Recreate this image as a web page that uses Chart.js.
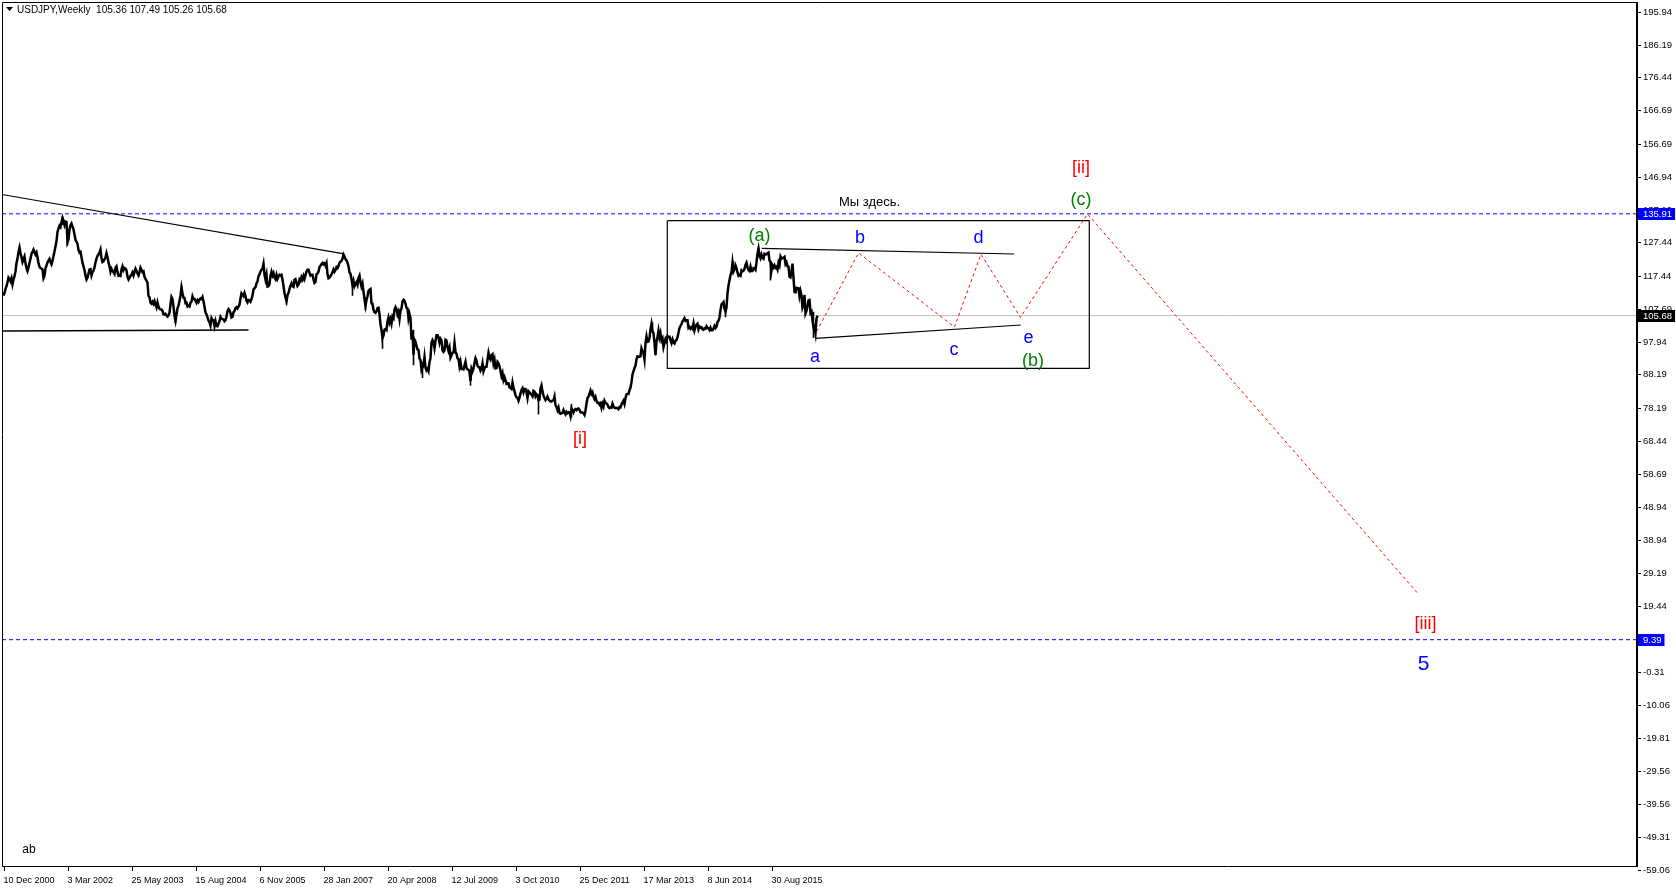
<!DOCTYPE html>
<html>
<head>
<meta charset="utf-8">
<title>USDJPY Weekly</title>
<script src="https://cdn.jsdelivr.net/npm/chart.js@4.4.0/dist/chart.umd.min.js"></script>
<style>
  html, body { margin: 0; padding: 0; background: #fff; overflow: hidden; }
  #wrap { width: 1676px; height: 894px; position: relative; }
</style>
</head>
<body>
<div id="wrap"><canvas id="chart" width="1676" height="894"></canvas></div>
<script>
// Weekly closes, one array per calendar year (week 0 = 10 Dec 2000)
const w2000 = [111.6,112.4,113.6,114.4];
const w2001 = [115.6,117.0,116.6,115.9, 116.8,115.0,116.4,117.4, 118.8,121.3,122.6,124.6, 125.9,124.2,123.0,121.6,122.4, 123.2,121.2,119.8,118.9, 119.9,121.4,122.6,124.0, 124.6,125.3,124.5,123.8,124.4, 123.0,121.2,120.2,119.8, 119.6,119.4,116.8,117.5,119.8, 120.5,121.5,122.0,122.5, 121.6,120.9,121.9,123.4, 124.7,126.3,127.8,130.5,131.6];
const w2002 = [132.4,132.0,133.5,134.7, 133.8,132.6,133.6,133.5, 127.5,128.3,131.3,132.5,133.0, 132.1,131.3,129.8,128.2, 127.6,127.0,125.2,124.4, 124.6,123.0,121.4,120.3,119.2, 117.5,116.4,117.0,118.2, 119.4,119.5,117.6,118.6, 119.0,120.0,121.5,122.6,123.4, 123.8,124.4,125.3,122.7, 121.6,121.8,122.4,122.9, 124.2,123.0,121.4,120.3,118.7];
const w2003 = [119.6,119.0,118.5,118.0, 119.9,120.3,118.6,117.5, 117.6,117.5,119.4,120.3,119.2, 119.8,119.6,119.1,117.2, 116.4,116.9,117.5,117.8, 118.5,117.6,118.6,119.6,119.0, 118.2,117.6,118.6,119.9, 119.3,118.6,118.8,117.2,116.6, 116.1,115.4,111.5,111.2, 109.5,109.2,109.8,109.2, 110.0,108.9,108.1,109.6,108.4, 107.7,107.5,107.5,107.1];
const w2004 = [106.1,106.0,106.2,105.7, 105.4,105.8,106.5,109.0,111.2, 110.6,108.3,105.6,104.1, 106.0,107.9,108.6,110.1, 111.6,114.0,112.3,111.0,110.9, 109.4,109.5,108.4,108.6, 108.4,109.5,109.8,111.4, 110.6,110.6,110.1,109.5,110.2, 109.7,110.4,110.8,110.6, 111.2,109.9,108.3,106.6,106.0, 105.2,104.2,103.7,102.7, 104.9,104.3,104.3,102.6];
const w2005 = [104.0,102.6,102.5,103.3,104.0, 105.3,104.8,104.6,104.5, 104.0,104.3,105.5,107.0, 107.6,107.2,106.5,105.1, 105.3,106.7,107.0,107.9,108.2, 107.8,108.3,108.9,110.8, 112.3,111.9,111.5,112.4,111.4, 110.1,109.6,110.3,110.2, 109.8,110.6,111.6,113.5, 113.8,114.1,115.3,115.8,117.4, 117.9,118.8,119.3,119.6, 121.0,117.9,116.4,117.8];
const w2006 = [114.3,114.4,115.0,117.5,118.7, 117.6,118.3,117.0,116.5, 117.8,116.6,117.3,117.8, 117.6,117.8,116.3,114.5,112.4, 111.1,110.0,111.7,112.4, 113.6,114.6,115.3,114.4, 114.2,116.3,116.5,115.5,114.5, 114.9,116.4,116.0,117.1, 116.4,117.5,116.6,117.7, 118.8,119.3,119.3,118.4,117.6, 117.8,117.8,116.4,115.4, 115.7,118.0,118.2,118.7,120.1];
const w2007 = [120.5,121.0,121.3,120.9, 121.2,120.5,121.3,118.0, 116.8,117.0,117.4,117.9, 118.6,119.4,118.7,119.2,120.1, 119.8,120.4,121.4,121.7, 121.9,122.6,123.8,123.2, 122.4,122.1,121.4,120.3,118.5, 118.1,116.5,114.8,116.0, 114.4,115.1,115.6,114.8,116.9, 117.6,115.6,114.3,115.2, 112.8,110.6,108.6,110.3, 111.4,113.0,113.4,113.6,109.3];
const w2008 = [109.2,107.4,106.7,106.5, 106.9,107.9,108.0,106.1, 103.0,101.5,99.0,99.7,101.5, 101.7,101.4,103.9,105.1, 103.6,104.6,103.3,105.4, 104.9,107.5,108.2,107.6,106.0, 106.8,104.7,107.1,107.8, 109.9,110.4,110.1,109.2,108.0, 107.8,104.8,106.2,105.0, 98.5,101.3,94.0,98.5, 97.9,96.7,95.6,95.5,92.9, 92.5,89.6,90.4,90.7];
const w2009 = [93.3,90.2,89.4,89.9, 89.2,91.8,93.1,97.6, 98.4,97.8,96.0,98.1,99.8, 99.8,99.2,97.6,98.8, 98.3,95.3,94.9,95.3,98.5, 98.3,96.3,95.2,96.2, 93.2,93.9,94.6,94.7, 97.6,94.8,94.4,93.0,92.8, 90.6,91.9,89.8,89.8, 89.7,90.9,92.0,90.1, 89.7,89.6,88.9,86.3,89.9, 89.1,89.9,91.6,93.0];
const w2010 = [92.3,90.8,90.3,90.3,89.3, 89.9,91.5,89.1,90.0, 90.5,90.5,92.5,94.6, 93.2,92.6,93.9,94.2, 91.5,92.6,90.0,90.1,91.9, 91.5,90.6,89.3,87.7, 88.6,86.5,87.4,86.5, 85.4,85.6,85.6,84.3,84.2, 83.9,85.8,84.2,83.3, 82.0,81.4,81.3,80.4,81.3, 82.5,83.6,84.1,82.9, 83.9,83.9,82.9,81.2];
const w2011 = [83.2,82.9,82.5,82.2,81.7, 83.3,83.1,81.7,82.3, 81.9,80.6,80.7,84.0, 84.9,83.1,81.9,81.2, 80.6,81.0,81.6,80.8,80.4, 80.2,80.1,80.4,80.5, 81.6,79.1,78.5,77.6,78.4, 76.8,76.5,76.6,76.8, 77.6,76.8,76.3,77.1, 76.7,77.0,76.9,75.8,78.0, 77.5,76.9,77.7,77.9, 77.6,78.0,78.1,77.7];
const w2012 = [77.0,76.9,76.9,76.7,76.2, 77.5,79.5,81.2,81.6, 82.5,83.4,82.4,82.9, 81.6,80.9,81.5,80.3,79.8, 79.8,79.2,79.6,78.3, 79.5,78.7,80.4,79.8, 79.6,79.2,78.5,78.2,78.4, 78.3,79.5,78.7,78.3, 78.2,78.3,78.2,77.9,78.5, 78.4,79.3,79.9,80.4, 79.4,81.2,82.3,82.4, 82.4,83.5,84.3,85.9,88.2];
const w2013 = [89.2,90.1,90.8,92.7, 93.6,93.5,93.4,93.6, 96.0,95.2,94.5,92.6,97.6, 99.5,97.9,98.0,99.0, 101.6,103.2,101.0,100.5, 97.5,94.0,97.9,99.2,101.2, 99.2,100.4,98.3,98.9, 96.3,97.5,98.7,98.1, 99.6,99.4,99.4,98.3,97.5, 98.6,97.7,97.4,98.2, 98.4,99.3,100.6,102.0, 102.6,103.2,104.0,104.4,104.9];
const w2014 = [104.1,104.3,104.3,102.0, 102.3,101.8,102.2,101.8, 103.3,101.3,102.3,103.0,103.3, 101.6,102.4,102.1,102.2, 101.6,101.5,101.9,101.8, 102.5,102.0,101.9,101.4,102.1, 101.3,101.3,101.8,102.6, 102.0,102.4,103.8,104.1,105.1, 107.3,109.0,109.3,109.7, 107.7,106.9,108.1,112.3, 114.6,116.2,117.7,118.6,121.4, 118.8,119.5,120.6,119.8];
const w2015 = [118.5,117.5,117.7,117.5, 119.1,118.8,119.0,119.6, 120.8,121.4,120.0,119.2,118.9, 120.2,118.9,118.9,119.8, 119.7,119.3,121.5,124.1,125.6, 123.4,122.7,123.8,122.9, 122.6,124.0,123.8,123.9, 124.2,124.4,122.0,121.7,119.0, 120.6,120.0,120.6,119.9, 120.2,119.4,121.4,120.6, 123.2,122.6,122.8,122.8,123.1, 121.0,121.5,120.3,120.2];
const w2016 = [117.2,117.0,118.8,121.1,116.9, 112.7,112.6,113.9,113.8, 113.8,111.5,113.0,111.7, 108.0,108.8,111.8,106.3, 107.1,108.6,110.2,110.3,106.5, 106.9,104.2,102.2,102.5, 100.6,104.8,105.68];

// Weeks whose high/low spike stands out from the closes
const wickWeek = [59, 64, 172, 178, 260, 283, 340, 349, 362, 379, 410, 419, 467, 535, 568, 649, 652, 722, 730, 755, 767, 810];
const wickLow  = [132.6,126.4,103.4,111.5,119.4,108.9,122.6,111.6,107.2,95.8,90.9,87.1,84.8,76.3,75.4,100.8,93.8,105.2,118.6,123.3,116.1,99.0];
const wickHigh = [135.2,131.0,105.9,114.9,121.4,111.8,124.1,116.2,111.2,100.2,101.5,92.0,89.8,82.2,79.5,103.7,98.5,108.3,121.8,125.9,121.8,106.8];

// Axis labels
const yTickValues = [195.94,186.19,176.44,166.69,156.69,146.94,137.19,127.44,117.44,107.69,97.94,88.19,78.19,68.44,58.69,48.94,38.94,29.19,19.44,9.69,-0.31,-10.06,-19.81,-29.56,-39.56,-49.31,-59.06];
const xTickWeeks = [0,64,128,192,256,320,384,448,512,576,640,704,768];
const xTickLabels = ['10 Dec 2000','3 Mar 2002','25 May 2003','15 Aug 2004','6 Nov 2005','28 Jan 2007','20 Apr 2008','12 Jul 2009','3 Oct 2010','25 Dec 2011','17 Mar 2013','8 Jun 2014','30 Aug 2015'];

// Levels and drawn objects (week index, price)
const levelTarget = 135.91;
const levelLow = 9.39;
const lastPrice = 105.68;
const resistLine = [[-1.5, 141.65], [340.5, 124.0]];
const supportLine = [[-1.5, 101.1], [245, 101.4]];
const boxWeeks = [663.8, 1085.8];
const boxPrices = [133.87, 90.02];
const triUpper = [[758.2, 125.67], [1010.5, 123.97]];
const triLower = [[812.2, 98.93], [1017.2, 102.88]];
const pathWeeks  = [813.2, 855.0, 951.0, 977.5, 1017.0, 1084.0, 1415.0];
const pathPrices = [100.98, 124.3, 102.3, 123.9, 105.15, 135.85, 22.9];

const closes = [].concat(w2000, w2001, w2002, w2003, w2004, w2005, w2006, w2007, w2008,
  w2009, w2010, w2011, w2012, w2013, w2014, w2015, w2016);

const wickPoints = [];
wickWeek.forEach((w, i) => {
  wickPoints.push({x: w, y: wickLow[i]}, {x: w, y: wickHigh[i]}, {x: w, y: null});
});

const X_MIN = -1.5, X_MAX = 1632.5;
const seg = (pts) => pts.map(p => ({x: p[0], y: p[1]}));
const hline = (v) => [{x: X_MIN, y: v}, {x: X_MAX, y: v}];

const GREEN = '#008000', BLUE = '#0000ff', RED = '#ff0000';
const FONT = '"Liberation Sans", Arial, sans-serif';

// Text annotations: [text, week, price, colour, size]
const notes = [
  ['(a)', 756.0, 129.3, GREEN, 18],
  ['b', 856.5, 128.7, BLUE, 18],
  ['d', 975.0, 128.7, BLUE, 18],
  ['a', 811.5, 93.4, BLUE, 18],
  ['c', 950.5, 95.3, BLUE, 18],
  ['e', 1025.0, 99.1, BLUE, 18],
  ['(b)', 1029.6, 92.2, GREEN, 18],
  ['(c)', 1077.5, 140.1, GREEN, 18],
  ['[ii]', 1077.5, 149.6, RED, 18],
  ['[i]', 576.5, 68.9, RED, 18],
  ['[iii]', 1422.0, 14.0, RED, 18],
  ['5', 1420.0, 2.0, BLUE, 21],
  ['Мы здесь.', 866.0, 139.2, '#000', 13],
  ['ab', 25.5, -53.0, '#000', 12]
];

const mtDecor = {
  id: 'mtDecor',
  afterDatasetsDraw(chart) {
    const {ctx, chartArea: a, scales: {x, y}} = chart;
    ctx.save();
    // frame
    ctx.strokeStyle = '#000';
    ctx.lineWidth = 1;
    ctx.beginPath();
    ctx.moveTo(a.left + 0.5, a.bottom + 0.5);
    ctx.lineTo(a.left + 0.5, a.top + 0.5);
    ctx.lineTo(a.right, a.top + 0.5);
    ctx.moveTo(a.left, a.bottom + 0.5);
    ctx.lineTo(a.right, a.bottom + 0.5);
    ctx.stroke();
    ctx.fillStyle = '#000';
    ctx.fillRect(a.right, a.top, 2, a.bottom - a.top + 1);

    // price scale
    ctx.font = '9.5px ' + FONT;
    ctx.textBaseline = 'middle';
    ctx.textAlign = 'left';
    yTickValues.forEach(v => {
      const py = Math.round(y.getPixelForValue(v)) + 0.5;
      ctx.beginPath();
      ctx.moveTo(a.right + 2, py);
      ctx.lineTo(a.right + 5, py);
      ctx.stroke();
      ctx.fillText(v.toFixed(2), a.right + 7, py);
    });

    // time scale
    ctx.font = '9px ' + FONT;
    xTickWeeks.forEach((w, i) => {
      const px = Math.round(x.getPixelForValue(w)) + 0.5;
      ctx.beginPath();
      ctx.moveTo(px, a.bottom + 1);
      ctx.lineTo(px, a.bottom + 5);
      ctx.stroke();
      ctx.fillText(xTickLabels[i], px - 1, a.bottom + 15);
    });

    // price tags
    ctx.font = '9.5px ' + FONT;
    [[levelTarget, BLUE], [lastPrice, '#000'], [levelLow, BLUE]].forEach(([v, bg]) => {
      const py = Math.round(y.getPixelForValue(v));
      const label = v.toFixed(2);
      const tw = ctx.measureText(label).width;
      ctx.fillStyle = bg;
      ctx.fillRect(a.right + 2, py - 6, tw + 8, 12);
      ctx.fillStyle = '#fff';
      ctx.fillText(label, a.right + 7, py + 0.5);
    });

    // annotations
    ctx.textAlign = 'center';
    notes.forEach(([t, w, v, col, size]) => {
      ctx.font = size + 'px ' + FONT;
      ctx.fillStyle = col;
      ctx.fillText(t, x.getPixelForValue(w), y.getPixelForValue(v));
    });

    // title
    ctx.fillStyle = '#000';
    ctx.beginPath();
    ctx.moveTo(6, 7); ctx.lineTo(13, 7); ctx.lineTo(9.5, 11); ctx.closePath();
    ctx.fill();
    ctx.textAlign = 'left';
    ctx.font = '10px ' + FONT;
    ctx.fillText('USDJPY,Weekly  105.36 107.49 105.26 105.68', 17, 10);
    ctx.restore();
  }
};

const line = (data, color, width, dash, order) => ({
  data, borderColor: color, borderWidth: width, borderDash: dash || [],
  pointRadius: 0, tension: 0, fill: false, spanGaps: false, order
});

new Chart(document.getElementById('chart'), {
  type: 'line',
  data: {
    datasets: [
      line(closes.map((v, i) => ({x: i, y: v})), '#000', 2.5, null, 1),
      line(wickPoints, '#000', 1.6, null, 1),
      line(hline(levelTarget), BLUE, 1, [4, 3], 6),
      line(hline(levelLow), BLUE, 1, [4, 3], 6),
      line(hline(lastPrice), '#c0c0c0', 1, null, 7),
      line(seg(resistLine), '#000', 1.2, null, 3),
      line(seg(supportLine), '#000', 1.4, null, 3),
      line(seg([[boxWeeks[0], boxPrices[0]], [boxWeeks[1], boxPrices[0]], [boxWeeks[1], boxPrices[1]], [boxWeeks[0], boxPrices[1]], [boxWeeks[0], boxPrices[0]]]), '#000', 1.2, null, 3),
      line(seg(triUpper), '#000', 1.2, null, 3),
      line(seg(triLower), '#000', 1.2, null, 3),
      line(pathWeeks.map((w, i) => ({x: w, y: pathPrices[i]})), RED, 1, [3, 3], 2)
    ]
  },
  options: {
    responsive: false,
    animation: false,
    devicePixelRatio: 1,
    layout: { padding: { left: 2, top: 2, right: 40, bottom: 28 } },
    scales: {
      x: { type: 'linear', min: X_MIN, max: X_MAX, display: false },
      y: { type: 'linear', min: -57.84, max: 198.84, display: false }
    },
    plugins: { legend: { display: false }, tooltip: { enabled: false } }
  },
  plugins: [mtDecor]
});
</script>
</body>
</html>
